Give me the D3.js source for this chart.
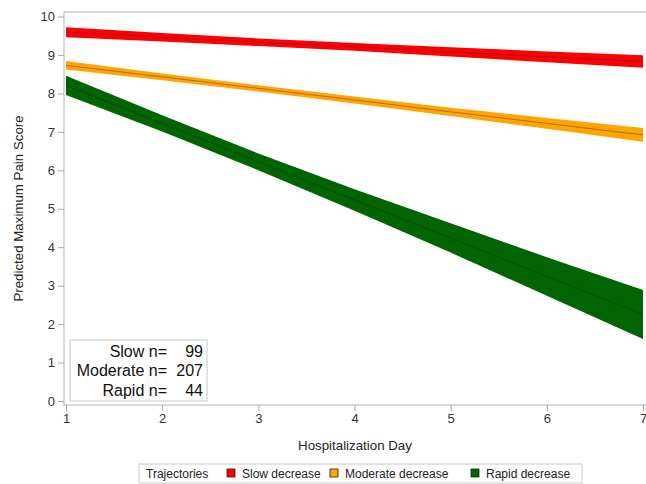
<!DOCTYPE html>
<html>
<head>
<meta charset="utf-8">
<script src="https://cdn.jsdelivr.net/npm/d3@7"></script>
<style>
  body { margin: 0; background: #fff; }
  svg { font-family: "Liberation Sans", Arial, sans-serif; }
  .axis text { font-size: 13px; fill: #333; }
  .axis line { stroke: #a8a8a8; }
  .axis path { display: none; }
</style>
</head>
<body>
<svg id="chart" width="646" height="484"></svg>
<script>
// hospitalization days
const days = [1, 2, 3, 4, 5, 6, 7];

// predicted mean and confidence limits per trajectory
const slowMean  = [9.59, 9.46, 9.33, 9.21, 9.08, 8.95, 8.83];
const slowLower = [9.46, 9.35, 9.23, 9.11, 8.96, 8.81, 8.67];
const slowUpper = [9.72, 9.57, 9.43, 9.31, 9.20, 9.09, 8.99];

const modMean  = [8.73, 8.43, 8.13, 7.83, 7.52, 7.22, 6.92];
const modLower = [8.62, 8.34, 8.05, 7.74, 7.41, 7.08, 6.74];
const modUpper = [8.84, 8.52, 8.21, 7.92, 7.63, 7.36, 7.10];

const rapidMean  = [8.21, 7.22, 6.22, 5.23, 4.24, 3.24, 2.25];
const rapidLower = [7.96, 7.01, 6.00, 4.95, 3.86, 2.74, 1.61];
const rapidUpper = [8.46, 7.43, 6.44, 5.51, 4.62, 3.74, 2.89];

const groupNames = ['Slow decrease', 'Moderate decrease', 'Rapid decrease'];
const groupN = [['Slow n=', 99], ['Moderate n=', 207], ['Rapid n=', 44]];
const yTicks = [0, 1, 2, 3, 4, 5, 6, 7, 8, 9, 10];

const groups = [
  { name: groupNames[0], mean: slowMean, lower: slowLower, upper: slowUpper, fill: '#ff0000', line: '#7a1030' },
  { name: groupNames[1], mean: modMean, lower: modLower, upper: modUpper, fill: '#ffa500', line: '#8a3a10' },
  { name: groupNames[2], mean: rapidMean, lower: rapidLower, upper: rapidUpper, fill: '#006400', line: '#0a3a0a' }
];

const svg = d3.select('#chart');
const frame = { left: 64, top: 12, right: 650, bottom: 405 };

const x = d3.scaleLinear().domain([1, 7]).range([66, 643]);
const y = d3.scaleLinear().domain([0, 10]).range([401, 16.5]);

// plot frame
svg.append('rect')
  .attr('x', frame.left).attr('y', frame.top)
  .attr('width', frame.right - frame.left).attr('height', frame.bottom - frame.top)
  .attr('fill', 'none').attr('stroke', '#b4b4b4');

// bands
const area = d3.area()
  .x((d, i) => x(days[i]))
  .y0((d, i) => y(d[0]))
  .y1((d, i) => y(d[1]));
const line = d3.line()
  .x((d, i) => x(days[i]))
  .y(d => y(d));

const bands = svg.append('g');
groups.forEach(g => {
  bands.append('path')
    .datum(g.lower.map((v, i) => [v, g.upper[i]]))
    .attr('d', area)
    .attr('fill', g.fill);
  bands.append('path')
    .datum(g.mean)
    .attr('d', line)
    .attr('fill', 'none')
    .attr('stroke', g.line)
    .attr('stroke-opacity', 0.6)
    .attr('stroke-width', 1);
});

// axes
svg.append('g').attr('class', 'axis')
  .attr('transform', 'translate(' + frame.left + ',0)')
  .call(d3.axisLeft(y).tickValues(yTicks).tickSize(6).tickPadding(3).tickFormat(d3.format('d')));

svg.append('g').attr('class', 'axis')
  .attr('transform', 'translate(0,' + frame.bottom + ')')
  .call(d3.axisBottom(x).tickValues(days).tickSize(6).tickPadding(3).tickFormat(d3.format('d')));

svg.append('text')
  .attr('x', (frame.left + 646) / 2).attr('y', 450)
  .attr('text-anchor', 'middle').attr('font-size', 13.3).attr('fill', '#222')
  .text('Hospitalization Day');

svg.append('text')
  .attr('transform', 'translate(23,' + (frame.top + frame.bottom) / 2 + ') rotate(-90)')
  .attr('text-anchor', 'middle').attr('font-size', 13.3).attr('fill', '#222')
  .text('Predicted Maximum Pain Score');

// n box
const nBox = svg.append('g');
nBox.append('rect')
  .attr('x', 70).attr('y', 340).attr('width', 137).attr('height', 61)
  .attr('fill', '#fff').attr('stroke', '#c8c8c8');
groupN.forEach((r, i) => {
  nBox.append('text')
    .attr('x', 167).attr('y', 357 + i * 19.3)
    .attr('text-anchor', 'end').attr('font-size', 16).attr('fill', '#111')
    .text(r[0]);
  nBox.append('text')
    .attr('x', 203).attr('y', 357 + i * 19.3)
    .attr('text-anchor', 'end').attr('font-size', 16).attr('fill', '#111')
    .text(r[1]);
});

// bottom legend
const leg = svg.append('g');
leg.append('rect')
  .attr('x', 139).attr('y', 464).attr('width', 443).attr('height', 19)
  .attr('fill', '#fff').attr('stroke', '#c8c8c8');
leg.append('text')
  .attr('x', 146).attr('y', 478).attr('font-size', 12).attr('fill', '#222')
  .text('Trajectories');
const swatchX = [227, 330, 471];
groups.forEach((g, i) => {
  leg.append('rect')
    .attr('x', swatchX[i]).attr('y', 469).attr('width', 8).attr('height', 8)
    .attr('fill', g.fill).attr('stroke', '#222').attr('stroke-width', 0.8);
  leg.append('text')
    .attr('x', swatchX[i] + 15).attr('y', 478).attr('font-size', 12).attr('fill', '#222')
    .text(g.name);
});
</script>
</body>
</html>
